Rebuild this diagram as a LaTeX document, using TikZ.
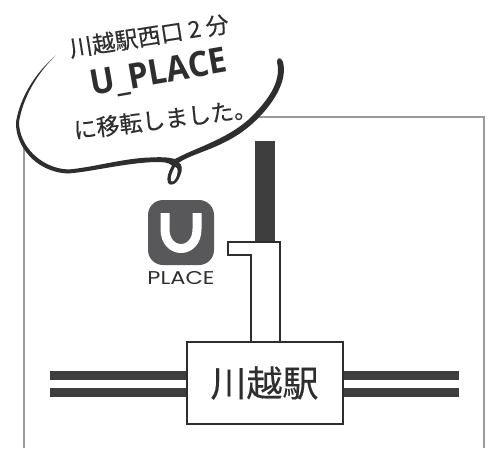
\documentclass[tikz,border=0pt]{standalone}
\usepackage{fontspec}
\setmainfont{Open Sans}
\newfontfamily\jpfont[FakeBold=0.35]{Noto Sans CJK JP}
\newfontfamily\logofont{Poppins}
\definecolor{framegray}{HTML}{9A9A9C}
\definecolor{raildark}{HTML}{3E3E3E}
\definecolor{inkdark}{HTML}{2E2E2E}
\definecolor{logogray}{HTML}{58585A}
\tikzset{
  railbar/.style={fill=raildark,draw=none},
  outline/.style={draw=inkdark,line width=2pt,fill=white},
  bubbletext/.style={text=inkdark,inner sep=0pt},
}
\begin{document}
\begin{tikzpicture}[x=1pt,y=-1pt]
\useasboundingbox (0,0) rectangle (493,448);
% frame
\draw[framegray,line width=1.8pt] (24,448) -- (24,117) -- (484,117) -- (484,448);
% white interior of the speech bubble hides the frame
\fill[white] (56,56) -- (250,30) -- (280,62) -- (252,122) -- (175,160) -- (68,170) -- (30,158) -- (16,122) -- cycle;
% dark vertical line
\fill[railbar] (255,141) rectangle (275,243);
% tracks
\coordinate (lt) at (50,371);
\coordinate (lb) at (50,388);
\coordinate (rt) at (459,380);
\coordinate (rb) at (459,397);
\fill[railbar] (lt) rectangle (186,380);
\fill[railbar] (lb) rectangle (186,397);
\fill[railbar] (343,371) rectangle (rt);
\fill[railbar] (343,388) rectangle (rb);
% stairs outline
\draw[outline,line join=miter] (251,342) -- (251,255) -- (228,255) -- (228,242) -- (280,242) -- (280,342);
% station
\node[outline,minimum width=156pt,minimum height=82pt,inner sep=0pt,font=\jpfont\fontsize{36}{36}\selectfont,text=inkdark] (station) at (264.5,383) {川越駅};
% logo
\fill[logogray,rounded corners=15pt] (148,200) rectangle (214,265);
\draw[white,line width=9pt,line join=round] (165,213) -- (165,229) .. controls (165,255) and (197,255) .. (197,229) -- (197,213);
\node[font=\logofont\fontsize{18.5}{18.5}\selectfont,text=inkdark,inner sep=0pt,xscale=1.22] (placelabel) at (181,278.5) {PLACE};
% bubble stroke
\fill[inkdark] (56,55.5)
 .. controls (36,72) and (20,97) .. (16,122)
 .. controls (15,145) and (35,172) .. (68,173.5)
 .. controls (90,172) and (125,163) .. (155,162)
 .. controls (163,162) and (168,162) .. (172,165.5)
 .. controls (169,171) and (166,178) .. (168,183)
 .. controls (171,187) and (177,184) .. (180,176)
 .. controls (183,170) and (182,164) .. (179,162.5)
 .. controls (195,152) and (225,148) .. (252,124)
 .. controls (272,106) and (288,82) .. (283,62)
 .. controls (281,57) and (277,57) .. (277,62)
 .. controls (282,82) and (267,102) .. (248,120)
 .. controls (225,140) and (195,148) .. (175,159)
 .. controls (168,157) and (160,157) .. (150,157.5)
 .. controls (125,158) and (90,168) .. (68,169.5)
 .. controls (40,168) and (19,145) .. (19,122)
 .. controls (23,97) and (38,72) .. (56,55.5) -- cycle;
\fill[white] (175,167) .. controls (172,172) and (170,178) .. (171,181) .. controls (173,183) and (176,179) .. (177,175) .. controls (178,171) and (178,168) .. (175,167) -- cycle;
% bubble texts
\node[bubbletext,rotate=9,font=\jpfont\fontsize{23}{23}\selectfont] (line1) at (149,36) {川越駅西口 2 分};
\node[bubbletext,rotate=10,font=\bfseries\fontsize{35}{35}\selectfont,xscale=0.93] (line2) at (159,74) {U\_PLACE};
\node[bubbletext,rotate=7,font=\jpfont\fontsize{23}{23}\selectfont] (line3) at (165,119) {に移転しました。};
\end{tikzpicture}
\end{document}
